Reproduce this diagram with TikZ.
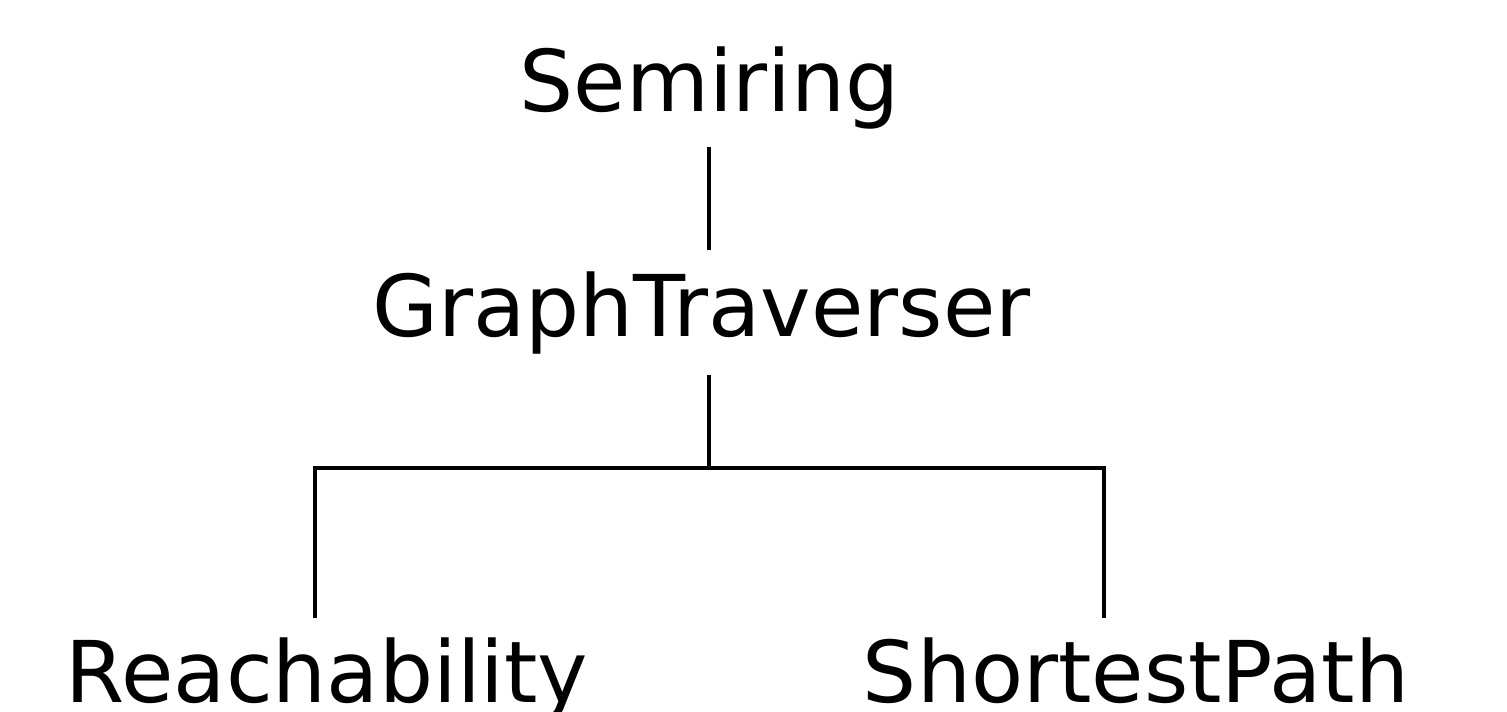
\documentclass[tikz,border=0pt]{standalone}
\usepackage{fontspec}
\setmainfont{DejaVu Sans}
\begin{document}
\begin{tikzpicture}[x=0.02cm,y=-0.02cm,
  lbl/.style={inner sep=0pt,anchor=base,font=\fontsize{48.5}{58}\selectfont},
  conn/.style={line width=2.3pt,line cap=butt}]
\useasboundingbox (0,0) rectangle (1507,712);
\node[lbl] (semi) at (709.5,112) {Semiring};
\node[lbl] (gt) at (701.5,337) {GraphTraverser};
\node[lbl] (reach) at (327,702) {Reachability};
\node[lbl] (sp) at (1136,702) {ShortestPath};
\coordinate (s1) at (709,147);
\coordinate (s2) at (709,250);
\coordinate (g1) at (709,375);
\coordinate (hj) at (709,468);
\coordinate (r1) at (315,618);
\coordinate (p1) at (1104,618);
\draw[conn] (s1) -- (s2);
\draw[conn] (g1) -- (hj);
\draw[conn] (r1) |- (hj) -| (p1);
\end{tikzpicture}
\end{document}
